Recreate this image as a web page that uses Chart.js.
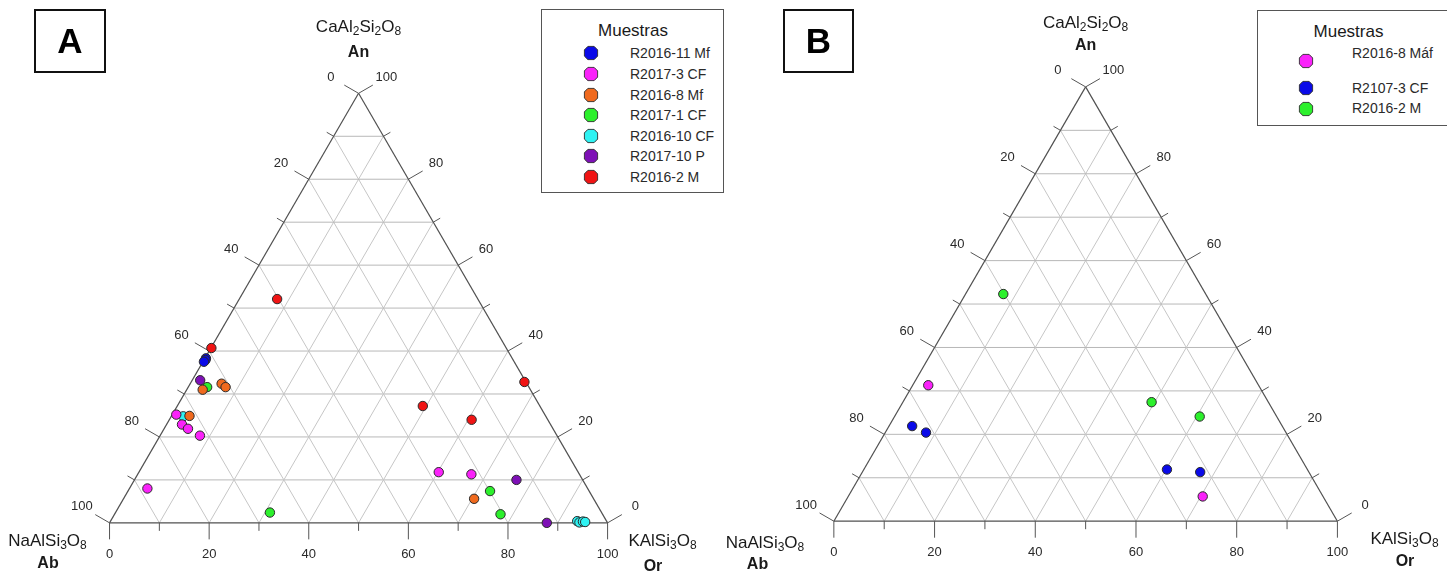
<!DOCTYPE html>
<html>
<head>
<meta charset="utf-8">
<title>Diagramas ternarios An–Ab–Or</title>
<script src="https://cdn.jsdelivr.net/npm/chart.js@4.4.1/dist/chart.umd.min.js"></script>
<style>
  html, body { margin: 0; padding: 0; background: #fff; }
  #figure { position: relative; width: 1450px; height: 576px; overflow: hidden;
            font-family: "Liberation Sans", Arial, sans-serif; color: #1a1a1a; }
  .panel { position: absolute; top: 0; width: 725px; height: 576px; overflow: hidden; }
  .panel canvas { position: absolute; left: 0; top: 0; }
  .tag { position: absolute; box-sizing: border-box; border: 2px solid #111;
         display: flex; align-items: center; justify-content: center;
         font: bold 35px "Liberation Sans", Arial, sans-serif; color: #000; }
  .vlabel { position: absolute; transform: translate(-50%, -50%); white-space: nowrap;
            line-height: 1; font-size: 17px; color: #1a1a1a; }
  .vlabel.em { font-weight: bold; font-size: 16px; }
  .vlabel sub { font-size: 12px; vertical-align: -3px; line-height: 0; }
  .legend-box { position: absolute; box-sizing: border-box; border: 1px solid #555; background: #fff; }
  .legend-title { position: absolute; transform: translate(-50%, -50%); font-size: 17px;
                  line-height: 1; white-space: nowrap; color: #1a1a1a; }
  .legend-text { position: absolute; transform: translateY(-50%); font-size: 14px;
                 line-height: 1; white-space: nowrap; color: #2a2a2a; }
  .legend-mark { position: absolute; transform: translate(-50%, -50%); display: block; }
</style>
</head>
<body>
<div id="figure">
  <div class="panel" id="panelA" style="left:0">
    <canvas id="chartA" width="725" height="576"></canvas>
    <div class="tag" style="left:34px;top:9px;width:72px;height:64px">A</div>
    <div class="vlabel" style="left:358.5px;top:26px">CaAl<sub>2</sub>Si<sub>2</sub>O<sub>8</sub></div>
    <div class="vlabel em" style="left:358.5px;top:52px">An</div>
    <div class="vlabel" style="left:47.5px;top:540px">NaAlSi<sub>3</sub>O<sub>8</sub></div>
    <div class="vlabel em" style="left:48px;top:562.5px">Ab</div>
    <div class="vlabel" style="left:662.5px;top:540px">KAlSi<sub>3</sub>O<sub>8</sub></div>
    <div class="vlabel em" style="left:653px;top:566px">Or</div>
  </div>
  <div class="panel" id="panelB" style="left:725px">
    <canvas id="chartB" width="725" height="576"></canvas>
    <div class="tag" style="left:58px;top:9px;width:71px;height:64px">B</div>
    <div class="vlabel" style="left:360.6px;top:22px">CaAl<sub>2</sub>Si<sub>2</sub>O<sub>8</sub></div>
    <div class="vlabel em" style="left:360.6px;top:45px">An</div>
    <div class="vlabel" style="left:40px;top:542px">NaAlSi<sub>3</sub>O<sub>8</sub></div>
    <div class="vlabel em" style="left:32.5px;top:564px">Ab</div>
    <div class="vlabel" style="left:679.5px;top:538px">KAlSi<sub>3</sub>O<sub>8</sub></div>
    <div class="vlabel em" style="left:680px;top:561px">Or</div>
  </div>
</div>

<script>
// ---- Feldespatos: composición en % molar, cada punto como [An, Ab, Or] ----

// Diagrama A
const A_R2016_11_Mf = [[38.3, 61.5, 0.2], [37.9, 61.8, 0.3], [37.5, 62.3, 0.2]];
const A_R2017_3_CF  = [[25.2, 74.0, 0.8], [22.9, 74.0, 3.1], [21.9, 73.3, 4.8], [20.3, 71.7, 8.0],
                       [8.0, 88.4, 3.6], [11.8, 28.0, 60.2], [11.3, 21.7, 67.0]];
const A_R2016_8_Mf  = [[31.0, 65.8, 3.2], [32.4, 61.3, 6.3], [31.6, 60.9, 7.5], [24.9, 71.5, 3.6],
                       [5.6, 24.0, 70.4]];
const A_R2017_1_CF  = [[31.6, 64.6, 3.8], [2.4, 66.6, 31.0], [7.4, 19.9, 72.7], [2.0, 20.5, 77.5]];
const A_R2016_10_CF = [[24.8, 72.8, 2.4], [0.4, 5.9, 93.7], [0.1, 5.6, 94.3], [0.3, 4.8, 94.9],
                       [0.2, 4.4, 95.4]];
const A_R2017_10_P  = [[33.2, 65.2, 1.6], [10.0, 13.3, 76.7], [0.0, 12.2, 87.8]];
const A_R2016_2_M   = [[40.7, 59.2, 0.1], [52.1, 40.3, 7.6], [32.8, 0.3, 66.9], [27.2, 23.5, 49.3],
                       [24.0, 15.3, 60.7]];

// Diagrama B
const B_R2016_8_Maf = [[31.3, 65.6, 3.1], [5.7, 23.9, 70.4]];
const B_R2107_3_CF  = [[21.9, 73.5, 4.6], [20.4, 71.5, 8.1], [11.9, 27.9, 60.2], [11.3, 21.6, 67.1]];
const B_R2016_2_M   = [[52.3, 40.2, 7.5], [27.4, 23.2, 49.4], [24.1, 15.3, 60.6]];

// Nombres de las muestras (leyenda)
const samplesA = ['R2016-11 Mf', 'R2017-3 CF', 'R2016-8 Mf', 'R2017-1 CF', 'R2016-10 CF', 'R2017-10 P', 'R2016-2 M'];
const samplesB = ['R2016-8 Máf', 'R2107-3 CF', 'R2016-2 M'];
const pointsA = [A_R2016_11_Mf, A_R2017_3_CF, A_R2016_8_Mf, A_R2017_1_CF, A_R2016_10_CF, A_R2017_10_P, A_R2016_2_M];
const pointsB = [B_R2016_8_Maf, B_R2107_3_CF, B_R2016_2_M];

// Marcas de los ejes (cada 10 %, rotuladas cada 20 %)
const tickValues = [0, 10, 20, 30, 40, 50, 60, 70, 80, 90, 100];
const tickLabels = ['0', '', '20', '', '40', '', '60', '', '80', '', '100'];

// Colores de las muestras
const coloursA = ['#0a0ae8', '#fa22fa', '#f06a1e', '#2cf02c', '#2ef2f2', '#7e10b6', '#f01414'];
const coloursB = ['#fa22fa', '#0a0ae8', '#2cf02c'];

// ---- Placement of each triangle inside its 725x576 canvas (pixels) ----
const layoutA = { left: 105.5, side: 506, base: 527.6 };
const layoutB = { left: 104.8, side: 511.6, base: 525.9 };
const H = Math.sqrt(3) / 2;

// Barycentric (An, Ab, Or) -> cartesian data coordinates, 0..100 along the base
function toXY([an, ab, or]) {
  return { x: or + an / 2, y: an * H };
}

// Linear scale limits so that the triangle lands where the layout says
function scaleLimits(g, w, h) {
  return {
    x: { min: -g.left / g.side * 100, max: (w - g.left) / g.side * 100 },
    y: { min: (g.base - h) / g.side * 100, max: g.base / g.side * 100 }
  };
}

// Draws the triangular frame, grid, ticks and tick labels from the chart scales
const ternaryFrame = {
  id: 'ternaryFrame',
  beforeDatasetsDraw(chart) {
    const { ctx } = chart;
    const sx = chart.scales.x, sy = chart.scales.y;
    const P = (an, or) => [sx.getPixelForValue(or + an / 2), sy.getPixelForValue(an * H)];
    const seg = (a, b, colour, width) => {
      ctx.beginPath();
      ctx.moveTo(a[0], a[1]);
      ctx.lineTo(b[0], b[1]);
      ctx.strokeStyle = colour;
      ctx.lineWidth = width;
      ctx.stroke();
    };
    ctx.save();

    // grid lines
    tickValues.forEach(k => {
      if (k === 0 || k === 100) return;
      seg(P(k, 0), P(k, 100 - k), '#b8b8b8', 1);          // An constante
      seg(P(0, k), P(100 - k, k), '#c6c6c6', 1);          // Or constante
      seg(P(0, 100 - k), P(100 - k, 0), '#c6c6c6', 1);    // Ab constante
    });

    // outer triangle
    const apex = P(100, 0), ab = P(0, 0), or = P(0, 100);
    seg(ab, or, '#505050', 1.2);
    seg(ab, apex, '#505050', 1.2);
    seg(or, apex, '#505050', 1.2);

    // ticks and their labels
    ctx.font = '13px "Liberation Sans", Arial, sans-serif';
    ctx.fillStyle = '#2a2a2a';
    ctx.textAlign = 'center';
    ctx.textBaseline = 'middle';
    const nl = [-H, -0.5], nr = [H, -0.5];
    const gap = 32;
    tickValues.forEach((k, i) => {
      const major = tickLabels[i] !== '';
      const len = major ? 16.5 : 8;
      // base: Or, 0 → 100 left to right
      const b = P(0, k);
      seg(b, [b[0], b[1] + len], '#555', 1);
      if (major) ctx.fillText(tickLabels[i], b[0], b[1] + 31.5);
      // left side: Ab, 0 at the apex → 100 at the Ab corner
      const l = P(100 - k, 0);
      seg(l, [l[0] + nl[0] * len, l[1] + nl[1] * len], '#555', 1);
      if (major) ctx.fillText(tickLabels[i], l[0] + nl[0] * gap, l[1] + nl[1] * gap);
      // right side: An, 0 at the Or corner → 100 at the apex
      const r = P(k, 100 - k);
      seg(r, [r[0] + nr[0] * len, r[1] + nr[1] * len], '#555', 1);
      if (major) ctx.fillText(tickLabels[i], r[0] + nr[0] * gap, r[1] + nr[1] * gap);
    });
    ctx.restore();
  }
};

function octagon(colour) {
  const ns = 'http://www.w3.org/2000/svg';
  const svg = document.createElementNS(ns, 'svg');
  svg.setAttribute('width', '15');
  svg.setAttribute('height', '15');
  svg.setAttribute('class', 'legend-mark');
  const poly = document.createElementNS(ns, 'polygon');
  poly.setAttribute('points', '4.5,0.8 10.5,0.8 14.2,4.5 14.2,10.5 10.5,14.2 4.5,14.2 0.8,10.5 0.8,4.5');
  poly.setAttribute('fill', colour);
  poly.setAttribute('stroke', '#333');
  poly.setAttribute('stroke-width', '1');
  svg.appendChild(poly);
  return svg;
}

// HTML legend built from the chart's own datasets
function htmlLegend(chart, panel, box) {
  const frame = document.createElement('div');
  frame.className = 'legend-box';
  Object.assign(frame.style, box.frame);
  panel.appendChild(frame);
  const title = document.createElement('div');
  title.className = 'legend-title';
  title.textContent = 'Muestras';
  title.style.left = box.title[0] + 'px';
  title.style.top = box.title[1] + 'px';
  panel.appendChild(title);
  chart.data.datasets.forEach((ds, i) => {
    const mark = octagon(ds.backgroundColor);
    mark.style.left = box.markX + 'px';
    mark.style.top = box.markY[i] + 'px';
    mark.style.position = 'absolute';
    panel.appendChild(mark);
    const txt = document.createElement('div');
    txt.className = 'legend-text';
    txt.textContent = ds.label;
    txt.style.left = box.textX + 'px';
    txt.style.top = box.textY[i] + 'px';
    panel.appendChild(txt);
  });
}

function makeChart(canvasId, names, groups, colours, layout) {
  const lim = scaleLimits(layout, 725, 576);
  return new Chart(document.getElementById(canvasId), {
    type: 'scatter',
    data: {
      datasets: names.map((name, i) => ({
        label: name,
        data: groups[i].map(toXY),
        backgroundColor: colours[i],
        borderColor: '#2a2a2a',
        borderWidth: 1,
        pointRadius: 4.7,
        pointStyle: 'circle'
      }))
    },
    options: {
      responsive: false,
      animation: false,
      devicePixelRatio: 1,
      events: [],
      clip: false,
      layout: { padding: 0 },
      scales: {
        x: { type: 'linear', min: lim.x.min, max: lim.x.max, display: false },
        y: { type: 'linear', min: lim.y.min, max: lim.y.max, display: false }
      },
      plugins: { legend: { display: false }, tooltip: { enabled: false }, title: { display: false } }
    },
    plugins: [ternaryFrame]
  });
}

const chartA = makeChart('chartA', samplesA, pointsA, coloursA, layoutA);
const chartB = makeChart('chartB', samplesB, pointsB, coloursB, layoutB);

htmlLegend(chartA, document.getElementById('panelA'), {
  frame: { left: '541px', top: '9px', width: '183px', height: '184px' },
  title: [633, 30],
  markX: 591,
  markY: [53.3, 73.9, 94.5, 115.1, 135.7, 156.3, 176.9],
  textX: 630,
  textY: [53.3, 73.9, 94.5, 115.1, 135.7, 156.3, 176.9]
});
htmlLegend(chartB, document.getElementById('panelB'), {
  frame: { left: '531.5px', top: '9.5px', width: '190px', height: '116px', borderRight: 'none' },
  title: [623.5, 30.5],
  markX: 581,
  markY: [61, 88.3, 109],
  textX: 627,
  textY: [53.3, 88.3, 108.3]
});
</script>
</body>
</html>
